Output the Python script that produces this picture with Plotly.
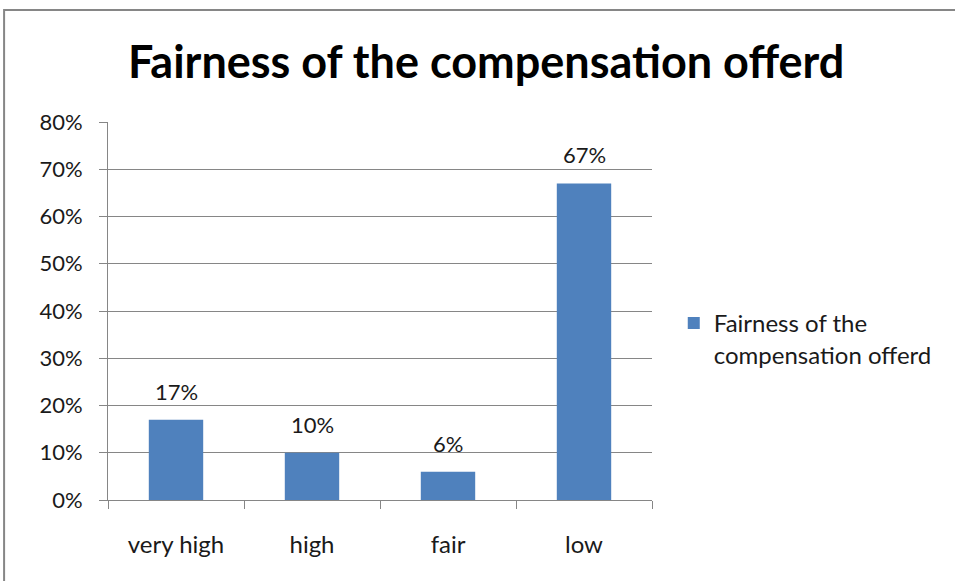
import plotly.graph_objects as go

categories = ["very high", "high", "fair", "low"]
values = [0.17, 0.10, 0.06, 0.67]
labels = ["17%", "10%", "6%", "67%"]
series_name = "Fairness of the<br>compensation offerd"
title_text = "Fairness of the compensation offerd"
y_tickvals = [0, 0.1, 0.2, 0.3, 0.4, 0.5, 0.6, 0.7, 0.8]

FONT = "Lato, Carlito, 'Open Sans', sans-serif"
GRAY = "#868686"
BLUE = "#4F81BD"
TXT = "#1a1a1a"

fig = go.Figure()
fig.add_trace(go.Bar(
    x=categories, y=values, name=series_name,
    marker=dict(color=BLUE, line=dict(width=0)),
    width=0.4, showlegend=True,
))

for c, v, t in zip(categories, values, labels):
    fig.add_annotation(x=c, y=v, text=t, showarrow=False, yanchor="bottom",
                       yshift=13, font=dict(family=FONT, size=22, color=TXT))

fig.add_shape(type="rect", xref="paper", yref="paper",
              x0=-0.191, x1=2.0, y0=-0.5, y1=1.296,
              line=dict(color=GRAY, width=2), fillcolor="rgba(0,0,0,0)", layer="below")

fig.update_layout(
    width=955, height=581,
    margin=dict(l=108, r=303, t=122, b=81),
    paper_bgcolor="white", plot_bgcolor="white",
    title=dict(text="<b>" + title_text + "</b>", x=0.509, xanchor="center",
               y=0.893, yanchor="middle",
               font=dict(family=FONT, size=45, color="black")),
    font=dict(family=FONT, size=22, color=TXT),
    bargap=0.6,
    legend=dict(x=1.04, y=0.426, xanchor="left", yanchor="middle",
                valign="top", font=dict(family=FONT, size=24, color=TXT),
                itemwidth=30, tracegroupgap=0),
    xaxis=dict(showline=True, linecolor=GRAY, linewidth=1, ticks="outside",
               tickcolor=GRAY, ticklen=8, showgrid=False, tickson="boundaries",
               tickfont=dict(size=24), ticklabelstandoff=23, automargin=False),
    yaxis=dict(range=[0, 0.8], tickvals=y_tickvals, tickformat=".0%",
               showline=True, linecolor=GRAY, linewidth=1, ticks="outside",
               tickcolor=GRAY, ticklen=8, showgrid=True, gridcolor=GRAY,
               gridwidth=1, zeroline=False, tickfont=dict(size=22),
               ticklabelstandoff=12, automargin=False),
)

fig.write_html("out.html", config={"displayModeBar": False},
               post_script="document.body.style.margin='0';")
